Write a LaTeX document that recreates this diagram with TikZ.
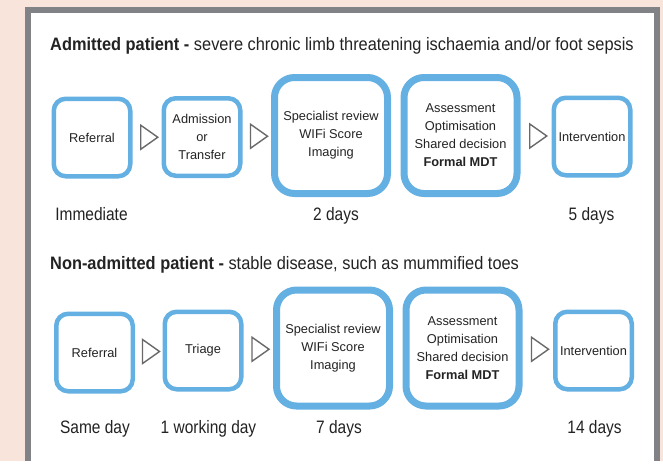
\documentclass[tikz,border=0pt]{standalone}
\usepackage{fontspec}
\setmainfont{Liberation Sans}
\newfontfamily\condfont[FakeStretch=0.86]{Liberation Sans}
\newfontfamily\headfont[FakeStretch=0.91]{Liberation Sans}
\usepackage{tikz}
\usetikzlibrary{shapes.geometric}

\definecolor{stepblue}{RGB}{100,176,226}
\definecolor{peach}{RGB}{248,228,219}
\definecolor{framegray}{RGB}{128,130,134}
\definecolor{tipgray}{RGB}{105,105,105}
\definecolor{textgray}{RGB}{35,35,35}

\begin{document}
\begin{tikzpicture}[
        x=1pt, y=-1pt,
        stepbox/.style={
            rectangle,
            draw=stepblue,
            line width=4.5pt,
            rounded corners=12pt,
            align=center,
            text=textgray,
            minimum width=76.5pt,
            minimum height=77.5pt,
            font=\fontsize{12.8}{18}\selectfont,
            inner sep=0pt
        },
        bigbox/.style={
            stepbox,
            line width=7pt,
            rounded corners=20pt,
            minimum width=113pt,
            minimum height=116pt
        },
        tri/.style={
            isosceles triangle,
            isosceles triangle stretches,
            draw=tipgray,
            line width=1.4pt,
            minimum width=24pt,
            minimum height=17pt,
            inner sep=0pt
        },
        heading/.style={
            anchor=base west,
            inner sep=0pt,
            text=textgray,
            font=\headfont\fontsize{18}{20}\selectfont
        },
        timing/.style={
            anchor=base,
            inner sep=0pt,
            text=textgray,
            font=\condfont\fontsize{18}{20}\selectfont
        }
    ]

        \fill[peach] (0,0) rectangle (663,461);
        \fill[white] (28,9.5) rectangle (656.5,461);
        \draw[framegray, line width=6pt] (28,461) -- (28,9.5) -- (656.5,9.5) -- (656.5,461);

        % admitted
        \node[heading] (head1) at (50,50) {\textbf{Admitted patient -} severe chronic limb threatening ischaemia and/or foot sepsis};

        \node[stepbox] (ref1) at (92,137.5) {Referral};
        \node[stepbox] (adm1) at (202,137) {Admission\\or\\Transfer};
        \node[bigbox] (spec1) at (331,135.5) {Specialist review\\WIFi Score\\Imaging};
        \node[bigbox] (ass1) at (460.5,135.5) {Assessment\\Optimisation\\Shared decision\\\textbf{Formal MDT}};
        \node[stepbox] (int1) at (592,136.5) {Intervention};

        \path (ref1.east) -- node[tri] (t11) {} (adm1.west);
        \path (adm1.east) -- node[tri] (t12) {} (spec1.west);
        \path (ass1.east) -- node[tri] (t13) {} (int1.west);

        \node[timing] (imm1) at (91.5,220) {Immediate};
        \node[timing] (day2) at (336,220) {2 days};
        \node[timing] (day5) at (591.5,220) {5 days};

        % non-admitted
        \node[heading] (head2) at (50,269) {\textbf{Non-admitted patient -} stable disease, such as mummified toes};

        \node[stepbox] (ref2) at (94.5,352.5) {Referral};
        \node[stepbox] (tri2) at (203,350.5) {Triage};
        \node[bigbox] (spec2) at (333,348) {Specialist review\\WIFi Score\\Imaging};
        \node[bigbox] (ass2) at (462.5,348) {Assessment\\Optimisation\\Shared decision\\\textbf{Formal MDT}};
        \node[stepbox] (int2) at (593.5,350.5) {Intervention};

        \path (ref2.east) -- node[tri] (t21) {} (tri2.west);
        \path (tri2.east) -- node[tri] (t22) {} (spec2.west);
        \path (ass2.east) -- node[tri] (t23) {} (int2.west);

        \node[timing] (same2) at (95,433) {Same day};
        \node[timing] (work2) at (208.5,433) {1 working day};
        \node[timing] (day7) at (339,433) {7 days};
        \node[timing] (day14) at (594.5,433) {14 days};

    \end{tikzpicture}
\end{document}
